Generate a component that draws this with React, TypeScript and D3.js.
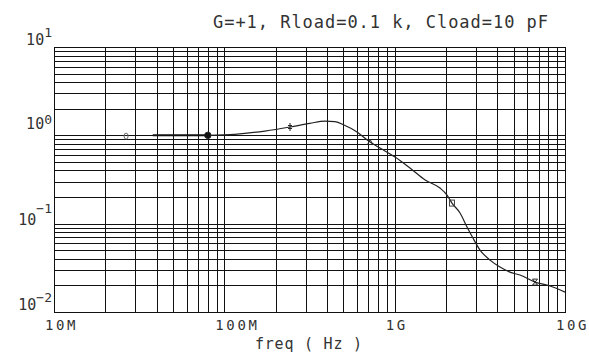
import React, { useEffect, useRef } from 'react'
import * as d3 from 'd3'

// curve (Hz, gain)
const freq = [38e6, 80e6, 115e6, 173e6, 243e6, 318e6, 390e6, 446e6, 511e6, 585e6, 717e6, 820e6,
  1.005e9, 1.23e9, 1.51e9, 1.845e9, 2.03e9, 2.17e9, 2.42e9, 2.66e9, 2.88e9, 3.17e9, 3.63e9,
  4.15e9, 4.75e9, 5.44e9, 6.67e9, 8.17e9, 10e9]
const mag = [1.0, 1.0, 1.026, 1.118, 1.242, 1.367, 1.452, 1.433, 1.29, 1.13, 0.84, 0.718,
  0.568, 0.426, 0.312, 0.253, 0.211, 0.171, 0.132, 0.0916, 0.0688, 0.0503, 0.0387,
  0.0323, 0.0283, 0.0262, 0.0218, 0.0197, 0.0168]

// marker symbols along the trace
const markerFreq = [26.5e6, 80e6, 243e6, 717e6, 2.17e9, 6.67e9]
const markerMag = [0.98, 1.0, 1.242, 0.84, 0.171, 0.0218]
const markerShape = ['o', 'dot', 'plus', 'tri', 'square', 'box']

const xTickValues = [1e7, 1e8, 1e9, 1e10]
const xTickLabels = ['10M', '100M', '1G', '10G']
const yTickValues = [10, 1, 0.1, 0.01]
const yTickExp = ['1', '0', '\u22121', '\u22122']

const title = 'G=+1, Rload=0.1 k, Cload=10 pF'
const xTitle = 'freq ( Hz )'

const W = 589
const H = 358
const font = '"DejaVu Sans Mono", monospace'

export default function App() {
  const ref = useRef<SVGSVGElement>(null)

  useEffect(() => {
    const svg = d3.select(ref.current)
    svg.selectAll('*').remove()

    const x = d3.scaleLog().domain([1e7, 1e10]).range([54, 565])
    const y = d3.scaleLog().domain([10, 0.01]).range([47, 312])

    // grid
    const grid = svg.append('g').attr('stroke', '#111').attr('stroke-width', 1)
      .attr('shape-rendering', 'crispEdges')
    grid.selectAll('line.v').data(x.ticks()).enter().append('line')
      .attr('class', 'v')
      .attr('x1', d => Math.round(x(d)) + 0.5).attr('x2', d => Math.round(x(d)) + 0.5)
      .attr('y1', 47).attr('y2', 312)
    grid.selectAll('line.h').data(y.ticks()).enter().append('line')
      .attr('class', 'h')
      .attr('y1', d => Math.round(y(d)) + 0.5).attr('y2', d => Math.round(y(d)) + 0.5)
      .attr('x1', 54).attr('x2', 566)

    // title
    svg.append('text')
      .attr('x', 213).attr('y', 28)
      .attr('font-family', font).attr('font-size', 17)
      .attr('textLength', 335).attr('lengthAdjust', 'spacing')
      .attr('fill', '#333')
      .text(title)

    // y tick labels 10^n
    const baseShift = [-2, -6, 1, -2]
    const supShift = [-8, -5, -12, -8]
    const yl = svg.append('g').attr('font-family', font).attr('fill', '#333')
    yTickValues.forEach((v, i) => {
      const t = yl.append('text')
        .attr('x', 52).attr('y', y(v) + baseShift[i])
        .attr('text-anchor', 'end').attr('font-size', 15)
      t.append('tspan').text('10')
      t.append('tspan').attr('dy', supShift[i]).attr('font-size', 13).text(yTickExp[i])
    })

    // x tick labels
    svg.append('g').attr('font-family', font).attr('fill', '#333').attr('font-size', 14)
      .attr('letter-spacing', 2.6)
      .selectAll('text').data(xTickValues).enter().append('text')
      .attr('x', d => x(d) - 9).attr('y', 330)
      .text((d, i) => xTickLabels[i])

    svg.append('text')
      .attr('x', 255).attr('y', 349)
      .attr('font-family', font).attr('font-size', 15).attr('fill', '#333')
      .attr('textLength', 107).attr('lengthAdjust', 'spacing')
      .text(xTitle)

    // trace
    const pts: [number, number][] = freq.map((f, i) => [x(f), y(mag[i])])
    const line = d3.line().curve(d3.curveMonotoneX)
    svg.append('path').attr('d', line(pts.slice(0, 2)))
      .attr('fill', 'none').attr('stroke', '#111').attr('stroke-width', 2)
    svg.append('path').attr('d', line(pts.slice(1)))
      .attr('fill', 'none').attr('stroke', '#222').attr('stroke-width', 1.2)

    // markers
    const mk = svg.append('g').attr('stroke', '#222').attr('fill', 'none').attr('stroke-width', 1)
    markerFreq.forEach((f, i) => {
      const cx = x(f)
      const cy = y(markerMag[i])
      const s = markerShape[i]
      if (s === 'o') {
        mk.append('ellipse').attr('cx', cx).attr('cy', cy).attr('rx', 2).attr('ry', 3)
          .attr('stroke', '#666')
      } else if (s === 'dot') {
        mk.append('circle').attr('cx', cx).attr('cy', cy).attr('r', 3.2).attr('fill', '#111')
      } else if (s === 'plus') {
        mk.append('path').attr('d', `M${cx},${cy - 4}V${cy + 4}M${cx - 2},${cy - 1.5}H${cx + 2}M${cx - 2},${cy + 1.5}H${cx + 2}`)
      } else if (s === 'tri') {
        mk.append('path').attr('d', `M${cx - 2.5},${cy + 2.5}L${cx},${cy - 3}L${cx + 2.5},${cy + 2.5}Z`)
      } else if (s === 'square') {
        mk.append('rect').attr('x', cx - 2.5).attr('y', cy - 3).attr('width', 5).attr('height', 6)
          .attr('stroke', '#444')
      } else {
        mk.append('path').attr('d', `M${cx - 2.5},${cy - 3}H${cx + 2.5}L${cx - 2.5},${cy + 3}H${cx + 2.5}Z`)
      }
    })
  }, [])

  return (
    <svg ref={ref} width={W} height={H} style={{ display: 'block', position: 'absolute', left: 0, top: 0, background: '#fff' }} />
  )
}
